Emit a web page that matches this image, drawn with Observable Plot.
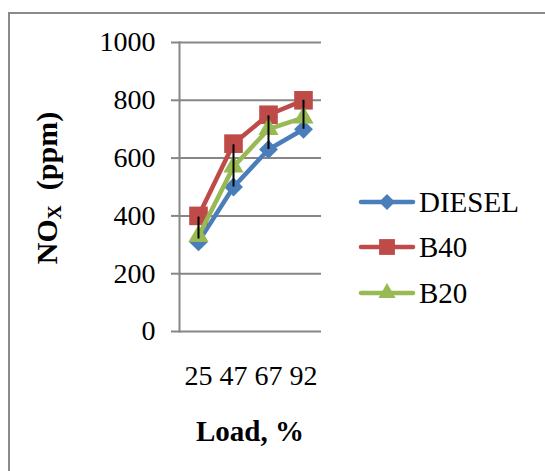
<!DOCTYPE html>
<html>
<head>
<meta charset="utf-8">
<script src="https://cdn.jsdelivr.net/npm/d3@7"></script>
<script src="https://cdn.jsdelivr.net/npm/@observablehq/plot@0.6"></script>
<style>
  html, body { margin: 0; padding: 0; background: #fff; }
  #wrap { position: relative; width: 545px; height: 471px; overflow: hidden; font-family: "Liberation Serif", "Times New Roman", serif; color: #000; }
  #border { position: absolute; left: 8px; top: 12px; width: 600px; height: 500px; border-left: 2px solid #8a8a8a; border-top: 2px solid #8a8a8a; }
  #chart { position: absolute; left: 0; top: 0; }
  #ytitle { position: absolute; width: 240px; height: 34px; line-height: 34px; left: -73px; top: 171px; text-align: center; transform: rotate(-90deg); font-weight: bold; font-size: 30px; white-space: pre; }
  #ytitle sub { font-size: 0.65em; vertical-align: -0.2em; line-height: 0; }
  #xtitle { position: absolute; width: 200px; left: 150px; top: 416px; height: 30px; line-height: 30px; text-align: center; font-weight: bold; font-size: 29px; }
  #legend { position: absolute; left: 358px; top: 0; }
  .row { position: absolute; left: 0; height: 30px; display: flex; align-items: center; white-space: nowrap; font-size: 29px; }
  .row svg { display: block; margin-right: 3px; }
</style>
</head>
<body>
<div id="wrap">
  <div id="border"></div>
  <div id="chart"></div>
  <div id="ytitle">NO<sub>X</sub>  (ppm)</div>
  <div id="xtitle">Load, %</div>
  <div id="legend"></div>
</div>
<script>
// ---- data ----
const loads = ["25", "47", "67", "92"];
const series = ["DIESEL", "B40", "B20"];
const diesel = [310, 500, 630, 700];
const b40 = [400, 650, 750, 800];
const b20 = [330, 570, 700, 740];
const errLow = [320, 500, 630, 700];
const errHigh = [396, 646, 746, 800];
const yTicks = [0, 200, 400, 600, 800, 1000];
const colors = ["#4a7ebb", "#be4b48", "#98b954"];
const symbols = ["diamond2", "square", "triangle"];
const radii = [8.5, 10.5, 7.5];

const values = [diesel, b40, b20];
const rows = series.flatMap((s, i) => loads.map((l, j) => ({series: s, load: l, value: values[i][j]})));
const errRows = loads.map((l, j) => ({load: l, lo: errLow[j], hi: errHigh[j]}));

const seriesMarks = series.flatMap((s, i) => {
  const d = rows.filter(r => r.series === s);
  return [
    Plot.line(d, {x: "load", y: "value", stroke: colors[i], strokeWidth: 4.5, strokeLinejoin: "round", strokeLinecap: "round"}),
    Plot.dot(d, {x: "load", y: "value", symbol: symbols[i], r: radii[i], fill: colors[i], stroke: "none"})
  ];
});

const chart = Plot.plot({
  width: 545,
  height: 471,
  marginLeft: 179,
  marginRight: 224,
  marginTop: 42,
  marginBottom: 140,
  style: {fontFamily: "'Liberation Serif', 'Times New Roman', serif", fontSize: "28px", color: "#000", background: "transparent", overflow: "visible"},
  x: {type: "point", domain: loads, padding: 0.5},
  y: {domain: [0, 1000]},
  marks: [
    Plot.gridY(yTicks, {stroke: "#868686", strokeOpacity: 1, strokeWidth: 2}),
    Plot.axisY(yTicks, {tickSize: 8, tickPadding: 16, stroke: "#868686", strokeWidth: 2, fill: "#000", label: null, tickFormat: d => String(d)}),
    Plot.axisX(loads, {tickSize: 0, tickPadding: 34, fill: "#000", label: null}),
    Plot.frame({anchor: "left", stroke: "#868686", strokeWidth: 2}),
    ...seriesMarks,
    Plot.ruleX(errRows, {x: "load", y1: "lo", y2: "hi", stroke: "#000", strokeWidth: 2})
  ]
});
document.getElementById("chart").appendChild(chart);

// ---- legend ----
const legendY = [202, 247, 293];
const legend = d3.select("#legend");
series.forEach((s, i) => {
  const row = legend.append("div").attr("class", "row").style("top", (legendY[i] - 15) + "px");
  const svg = row.append("svg").attr("width", 58).attr("height", 30);
  svg.append("line").attr("x1", 3).attr("x2", 55).attr("y1", 15).attr("y2", 15)
    .attr("stroke", colors[i]).attr("stroke-width", 4.5).attr("stroke-linecap", "round");
  const sym = {diamond2: d3.symbolDiamond2, square: d3.symbolSquare, triangle: d3.symbolTriangle}[symbols[i]];
  const r = radii[i] * 0.85;
  svg.append("path").attr("transform", "translate(29,15)")
    .attr("d", d3.symbol(sym, Math.PI * r * r)())
    .attr("fill", colors[i]);
  row.append("span").text(s);
});
</script>
</body>
</html>
